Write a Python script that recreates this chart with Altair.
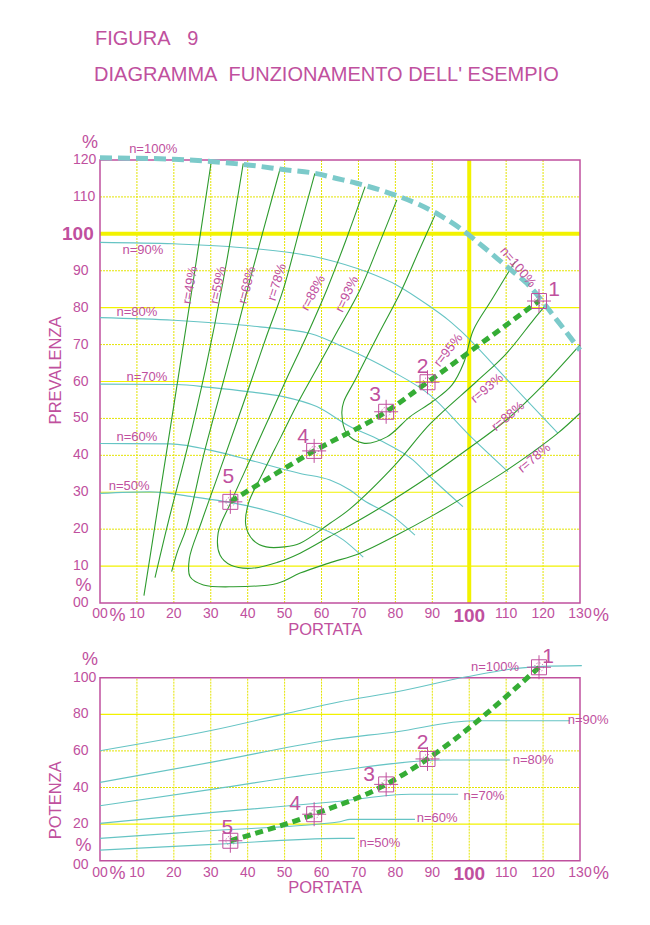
import altair as alt
import pandas as pd

# ---------------- colours / fonts ----------------
PINK = "#c0509e"
GRID = "#e4e400"
GRID_SOLID = "#f2f200"
CYAN = "#66c4c4"
CYAN_THICK = "#7ccaca"
GREEN = "#2e9b2e"
GREEN_DASH = "#35ad35"
FONT = "Liberation Sans"
NBSP = "\u00a0"

# ---------------- data ----------------
X_TICKS = [0, 10, 20, 30, 40, 50, 60, 70, 80, 90, 100, 110, 120, 130]
TOP_Y_TICKS = [0, 10, 20, 30, 40, 50, 60, 70, 80, 90, 100, 110, 120]
BOT_Y_TICKS = [0, 20, 40, 60, 80, 100]
TOP_SOLID_Y = [10, 30, 60, 80]
BOT_SOLID_Y = [20, 80]

# head curves at constant speed (flow %, head %)
N100_Q = [0, 20, 30, 40.6, 50.6, 58.2, 64.1, 69.5, 75.8, 81.3, 86.7, 92.1, 97.5, 103.8, 110.2, 115.6, 123.7, 130]
N100_H = [120.6, 120.2, 119.6, 118.6, 117.3, 116.4, 115.0, 113.7, 111.9, 110.0, 107.8, 105.0, 101.5, 96.5, 91.1, 86.6, 76.7, 68.5]
N90_Q = [0, 20, 40.6, 60, 72.2, 80.4, 89.4, 94.3, 97.5, 110, 124]
N90_H = [97.7, 97.3, 96.1, 93.4, 89.7, 86.1, 80.3, 76.7, 73.9, 60.8, 46.0]
N80_Q = [0, 20, 43.3, 56.9, 67.7, 78.5, 89.4, 100, 110.5]
N80_H = [77.3, 76.6, 74.8, 73.0, 68.5, 63.1, 56.3, 45.5, 35.6]
N70_Q = [0, 20.8, 29.8, 40.6, 49.6, 58.7, 67.7, 75.8, 84.8, 89.4, 98.3]
N70_H = [59.3, 59.2, 58.4, 57.2, 55.9, 53.2, 47.8, 44.1, 38.7, 34.2, 26.1]
N60_Q = [0, 19, 31.6, 40.6, 54.2, 62.3, 67.7, 71.3, 79.4, 85.3]
N60_H = [43.2, 43.1, 41.0, 38.7, 35.1, 33.3, 30.6, 27.9, 23.4, 18.4]
N50_Q = [0, 13.5, 25, 40, 54.2, 65.9, 71.3]
N50_H = [29.7, 30.1, 28.8, 26.3, 22.2, 17.1, 12.4]

# iso-efficiency curves (flow %, head %), in drawing order
R49_Q = [11.9, 18.1, 25.3, 30.2]
R49_H = [2.0, 41.4, 87.5, 120.0]
R59_Q = [14.9, 18.5, 23.5, 28.5, 33.4, 38.8]
R59_H = [6.9, 22.0, 41.4, 63.0, 87.5, 119.1]
R68_Q = [19.4, 21.0, 23.3, 28.4, 34.5, 40.6, 48.8]
R68_H = [8.5, 14.0, 20.0, 41.4, 64.0, 87.5, 117.7]
R78_Q = [58.2, 54.0, 49.6, 45.0, 40.9, 33.9, 27.5, 24.2, 24.4, 28.0, 36.1, 47.9, 54.2, 62.0, 70.4, 80.4, 90.3, 100.2, 110.2, 117.4, 124.0, 130.0]
R78_H = [116.4, 101.0, 84.8, 72.0, 60.0, 40.0, 22.0, 12.0, 7.1, 4.9, 4.4, 5.3, 8.1, 10.8, 13.5, 18.4, 23.8, 29.7, 36.0, 41.0, 46.0, 51.4]
R88_Q = [71.8, 66.5, 61.4, 55.8, 50.2, 45.7, 41.2, 35.5, 32.0, 32.5, 35.5, 41.0, 48.0, 54.2, 62.3, 74.9, 90.3, 100.0, 110.0, 120.0, 130.0]
R88_H = [112.8, 98.0, 84.8, 72.0, 60.0, 50.0, 40.0, 27.4, 19.0, 13.0, 10.2, 9.4, 11.0, 13.5, 18.0, 25.2, 35.1, 42.0, 49.5, 59.0, 69.9]
R93_Q = [80.4, 75.5, 70.4, 64.5, 59.0, 54.0, 49.0, 44.0, 40.2, 39.5, 41.5, 45.0, 50.0, 54.2, 62.3, 67.7, 80.0, 89.4, 102.0, 110.0, 117.4, 121.0]
R93_H = [109.2, 97.0, 84.8, 74.0, 64.0, 55.0, 45.0, 35.0, 27.0, 21.0, 17.0, 15.2, 15.2, 16.2, 21.6, 25.5, 37.5, 48.5, 60.0, 67.5, 76.7, 81.0]
R95_Q = [90.7, 86.2, 81.7, 75.0, 69.1, 66.0, 65.5, 66.8, 71.3, 77.7, 84.0, 90.0, 95.3, 98.5, 101.1, 106.0, 111.0, 112.5]
R95_H = [105.0, 95.0, 84.8, 72.0, 60.4, 54.5, 51.4, 46.0, 43.3, 45.0, 50.5, 54.5, 59.0, 65.0, 73.9, 82.0, 90.2, 92.5]

# operating points 5..1
PT_LABEL = ["5", "4", "3", "2", "1"]
PT_Q = [35.3, 58.0, 77.5, 88.7, 118.9]
PT_H = [27.4, 41.2, 51.8, 59.8, 81.8]
PT_P = [10.9, 25.4, 41.7, 55.6, 105.7]

# power curves at constant speed (flow %, power %)
P100_Q = [0, 30.7, 50.6, 65.0, 80.4, 99.3, 112.9, 120.0, 130.5]
P100_P = [60.1, 71.4, 80.5, 86.9, 92.3, 100.5, 105.1, 106.2, 106.6]
P90_Q = [0, 30.7, 62.3, 80.4, 101.1, 127.3]
P90_P = [42.8, 54.0, 66.0, 70.5, 76.5, 76.5]
P80_Q = [0, 30.7, 62.3, 93.0, 111.0]
P80_P = [30.0, 39.1, 48.6, 55.0, 55.0]
P70_Q = [0, 30.7, 65.0, 84.0, 97.0]
P70_P = [20.4, 26.4, 32.5, 36.3, 36.3]
P60_Q = [0, 30.7, 65.0, 67.7, 85.3]
P60_P = [12.2, 16.5, 21.3, 22.6, 22.6]
P50_Q = [0, 30.7, 65.0, 69.0]
P50_P = [5.8, 8.9, 12.2, 12.2]

# curve labels
TOP_N_TEXT = ["n=100%", "n=90%", "n=80%", "n=70%", "n=60%", "n=50%"]
TOP_N_Q = [14.4, 11.6, 10.0, 12.7, 10.0, 7.9]
TOP_N_H = [123.0, 95.6, 78.8, 61.2, 45.0, 31.7]
TOP_R_TEXT = ["n=100%", "r=49%", "r=59%", "r=68%", "r=78%", "r=88%", "r=93%", "r=95%", "r=93%", "r=88%", "r=78%"]
TOP_R_Q = [113.2, 24.4, 32.0, 39.8, 47.9, 57.7, 66.9, 94.3, 104.8, 110.5, 117.6]
TOP_R_H = [91.0, 86.1, 86.1, 86.1, 86.9, 84.0, 83.7, 68.5, 58.2, 50.6, 39.3]
TOP_R_ANGLE = [50, 280, 282, 284, 287, 298, 295, 308, 320, 320, 320]
BOT_N_TEXT = ["n=100%", "n=90%", "n=80%", "n=70%", "n=60%", "n=50%"]
BOT_N_Q = [107.0, 132.2, 117.3, 104.0, 91.3, 75.8]
BOT_N_P = [105.8, 76.9, 55.0, 35.4, 23.4, 9.7]

TITLE = "FIGURA" + NBSP * 3 + "9"
SUBTITLE = "DIAGRAMMA" + NBSP * 2 + "FUNZIONAMENTO DELL' ESEMPIO"

# ---------------- layout (styles) ----------------
W, H_TOP = 480, 443
BOT_RANGE = [700.7, 517.7]
XS = alt.Scale(domain=[0, 130], range=[0, W], nice=False, zero=False)
YT = alt.Scale(domain=[0, 120], range=[H_TOP, 0], nice=False, zero=False)
YB = alt.Scale(domain=[0, 100], range=BOT_RANGE, nice=False, zero=False)

TOP_LABEL_OFF = {"1": (15, -11), "2": (-5, -15), "3": (-11, -17), "4": (-11, -14), "5": (-2, -25)}
BOT_LABEL_OFF = {"1": (9, -10), "2": (-5, -16), "3": (-17, -9), "4": (-19, -10), "5": (-3, -13)}


def X(f):
    return alt.X(f"{f}:Q", scale=XS, axis=None)


def Y(f, s):
    return alt.Y(f"{f}:Q", scale=s, axis=None)


def curve(qs, vs, s, color, width, dash=None, interp="monotone"):
    df = pd.DataFrame({"q": qs, "v": vs, "o": list(range(len(qs)))})
    kw = dict(color=color, strokeWidth=width, interpolate=interp)
    if dash:
        kw["strokeDash"] = dash
    return alt.Chart(df).mark_line(**kw).encode(x=X("q"), y=Y("v", s), order="o:Q")


def vgrid(xs, s, y0, y1, color, width, dash=None):
    df = pd.DataFrame({"q": xs, "a": [y0] * len(xs), "b": [y1] * len(xs)})
    kw = dict(color=color, strokeWidth=width)
    if dash:
        kw["strokeDash"] = dash
    return alt.Chart(df).mark_rule(**kw).encode(x=X("q"), y=Y("a", s), y2="b:Q")


def hgrid(ys, s, x0, x1, color, width, dash=None):
    df = pd.DataFrame({"v": ys, "a": [x0] * len(ys), "b": [x1] * len(ys)})
    kw = dict(color=color, strokeWidth=width)
    if dash:
        kw["strokeDash"] = dash
    return alt.Chart(df).mark_rule(**kw).encode(y=Y("v", s), x=X("a"), x2="b:Q")


def frame(s, ymax):
    df = pd.DataFrame({"a": [0], "b": [130], "c": [0], "d": [ymax]})
    return alt.Chart(df).mark_rect(fill="white", fillOpacity=0, stroke=PINK, strokeWidth=1.5).encode(
        x=X("a"), x2="b:Q", y=Y("c", s), y2="d:Q")


def texts(qs, vs, labels, s, angles=None, **mk):
    d = {"q": qs, "v": vs, "t": labels}
    enc = dict(x=X("q"), y=Y("v", s), text="t:N")
    if angles is not None:
        d["a"] = angles
        enc["angle"] = alt.Angle("a:Q", scale=None)
    kw = dict(font=FONT, color=PINK)
    kw.update(mk)
    return alt.Chart(pd.DataFrame(d)).mark_text(**kw).encode(**enc)


def markers(qs, vs, s):
    df = pd.DataFrame({"q": qs, "v": vs})
    base = alt.Chart(df).encode(x=X("q"), y=Y("v", s))
    return [
        base.mark_point(shape="square", size=225, filled=False, color=PINK, strokeWidth=1, opacity=1),
        base.mark_point(shape="M-1,0L1,0M0,-1L0,1", size=576, filled=False, color=PINK, strokeWidth=1, opacity=1),
        base.mark_point(shape="circle", size=80, filled=False, color=PINK, strokeWidth=1, strokeDash=[1, 2], opacity=1),
    ]


def axes(s, yticks, ymax, big_y, pct_top, pct_zero, zero_dy, xlab_dy, big_dy, ytitle, ytitle_v, xtitle_dy):
    out = []
    # x labels
    small_x = [t for t in X_TICKS if t not in (0, 100)]
    out.append(texts(small_x, [0] * len(small_x), [str(t) for t in small_x], s,
                     fontSize=14, align="center", baseline="middle", dy=xlab_dy))
    out.append(texts([0], [0], ["00"], s, fontSize=14, align="center", baseline="middle", dy=xlab_dy))
    out.append(texts([100], [0], ["100"], s, fontSize=19, fontWeight="bold", align="center", baseline="middle", dy=big_dy))
    out.append(texts([0], [0], ["%"], s, fontSize=18, align="center", baseline="middle", dx=17.5, dy=big_dy))
    out.append(texts([130], [0], ["%"], s, fontSize=18, align="center", baseline="middle", dx=21, dy=big_dy))
    # y labels
    small_y = [t for t in yticks if t != 0 and not (big_y and t == 100)]
    out.append(texts([0] * len(small_y), small_y, [str(t) for t in small_y], s,
                     fontSize=14, align="left", baseline="middle", dx=-27))
    out.append(texts([0], [0], ["00"], s, fontSize=14, align="left", baseline="middle", dx=-27, dy=zero_dy))
    if big_y:
        out.append(texts([0], [100], ["100"], s, fontSize=19, fontWeight="bold", align="left", baseline="middle", dx=-38))
    out.append(texts([0], [ymax], ["%"], s, fontSize=18, align="center", baseline="middle",
                     dx=pct_top[0], dy=pct_top[1]))
    out.append(texts([0], [0], ["%"], s, fontSize=18, align="center", baseline="middle",
                     dx=pct_zero[0], dy=pct_zero[1]))
    # titles
    out.append(texts([-11.9], [ytitle_v], [ytitle], s, angles=[270], fontSize=16.5, align="center",
                     baseline="middle"))
    out.append(texts([61], [0], ["PORTATA"], s, fontSize=16.5, align="center", baseline="middle", dy=xtitle_dy))
    return out


layers = []

# ---------- top chart grid ----------
dotted_x = [t for t in X_TICKS if t not in (0, 100, 130)]
layers.append(vgrid(dotted_x, YT, 0, 120, GRID, 1, [2, 1]))
layers.append(vgrid([100], YT, 0, 120, GRID_SOLID, 4))
dotted_y = [t for t in TOP_Y_TICKS if t not in (0, 100, 120) and t not in TOP_SOLID_Y]
layers.append(hgrid(dotted_y, YT, 0, 130, GRID, 1, [2, 1]))
layers.append(hgrid(TOP_SOLID_Y, YT, 0, 130, GRID_SOLID, 1.2))
layers.append(hgrid([100], YT, 0, 130, GRID_SOLID, 4))

# ---------- bottom chart grid ----------
layers.append(vgrid([t for t in X_TICKS if t not in (0, 130)], YB, 0, 100, GRID, 1, [2, 1]))
layers.append(hgrid([t for t in BOT_Y_TICKS if t not in (0, 100) and t not in BOT_SOLID_Y], YB, 0, 130, GRID, 1, [2, 1]))
layers.append(hgrid(BOT_SOLID_Y, YB, 0, 130, GRID_SOLID, 1.2))

# frames
layers.append(frame(YT, 120))
layers.append(frame(YB, 100))

# ---------- top chart curves ----------
for qs, hs in [(N90_Q, N90_H), (N80_Q, N80_H), (N70_Q, N70_H), (N60_Q, N60_H), (N50_Q, N50_H)]:
    layers.append(curve(qs, hs, YT, CYAN, 1.1))
for qs, hs in [(R49_Q, R49_H), (R59_Q, R59_H), (R68_Q, R68_H), (R78_Q, R78_H),
               (R88_Q, R88_H), (R93_Q, R93_H), (R95_Q, R95_H)]:
    layers.append(curve(qs, hs, YT, GREEN, 1.1, interp="catmull-rom"))
layers.append(curve(N100_Q, N100_H, YT, CYAN_THICK, 5, dash=[12, 6]))
layers.append(curve(PT_Q, PT_H, YT, GREEN_DASH, 5, dash=[8, 5]))
layers += markers(PT_Q, PT_H, YT)
for lab, q, h in zip(PT_LABEL, PT_Q, PT_H):
    dx, dy = TOP_LABEL_OFF[lab]
    layers.append(texts([q], [h], [lab], YT, fontSize=21, align="center", baseline="middle", dx=dx, dy=dy))

# ---------- bottom chart curves ----------
for qs, ps in [(P100_Q, P100_P), (P90_Q, P90_P), (P80_Q, P80_P), (P70_Q, P70_P), (P60_Q, P60_P), (P50_Q, P50_P)]:
    layers.append(curve(qs, ps, YB, CYAN, 1.1))
layers.append(curve(PT_Q, PT_P, YB, GREEN_DASH, 5, dash=[8, 5]))
layers += markers(PT_Q, PT_P, YB)
for lab, q, p in zip(PT_LABEL, PT_Q, PT_P):
    dx, dy = BOT_LABEL_OFF[lab]
    layers.append(texts([q], [p], [lab], YB, fontSize=21, align="center", baseline="middle", dx=dx, dy=dy))

# ---------- curve labels ----------
layers.append(texts(TOP_N_Q, TOP_N_H, TOP_N_TEXT, YT, fontSize=13, align="center", baseline="middle"))
layers.append(texts(TOP_R_Q, TOP_R_H, TOP_R_TEXT, YT, angles=TOP_R_ANGLE, fontSize=13,
                    align="center", baseline="middle"))
layers.append(texts(BOT_N_Q, BOT_N_P, BOT_N_TEXT, YB, fontSize=13, align="center", baseline="middle"))

# ---------- axes ----------
layers += axes(YT, TOP_Y_TICKS, 120, True, (-10, -17), (-16.5, -17), 0, 10.5, 12.5,
               "PREVALENZA", 63, 27)
layers += axes(YB, BOT_Y_TICKS, 100, False, (-10, -18), (-16.5, -14.5), 4, 11.8, 13,
               "POTENZA", 33, 27)

# ---------- titles ----------
layers.append(texts([-1.35], [152.9], [TITLE], YT, fontSize=20, align="left", baseline="middle"))
layers.append(texts([-1.6], [143.1], [SUBTITLE], YT, fontSize=20, align="left", baseline="middle"))

chart = (
    alt.layer(*layers)
    .resolve_scale(y="independent")
    .properties(
        width=W,
        height=H_TOP,
        padding={"left": 92, "top": 152, "right": 48, "bottom": 300},
        autosize=alt.AutoSizeParams(type="none"),
        background="white",
    )
    .configure_view(stroke=None)
)

chart.save("out.html", embed_options={"renderer": "svg", "actions": False})
